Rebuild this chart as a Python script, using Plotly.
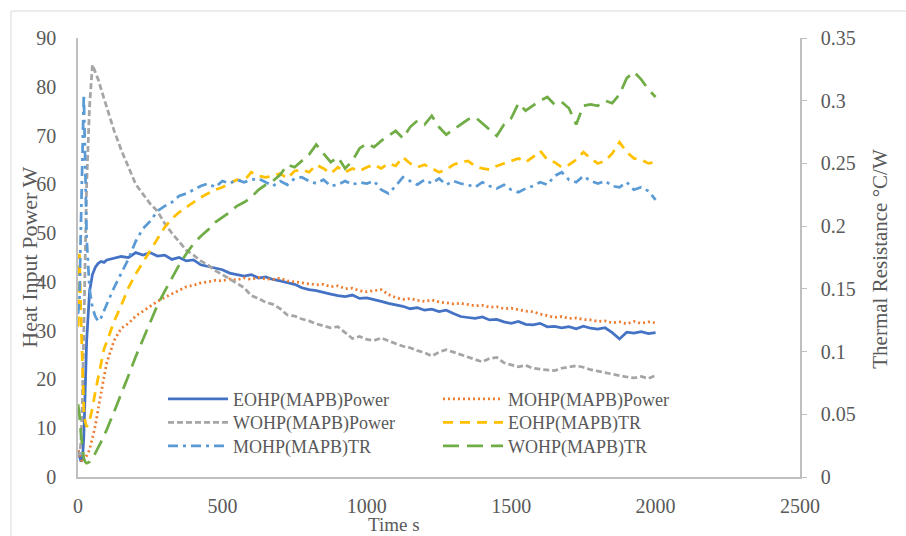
import plotly.graph_objects as go

time_s = [0, 5, 10, 15, 20, 25, 30, 40, 50, 60, 70, 80, 90, 100,
          125, 150, 175, 200, 225, 250, 275, 300, 325, 350, 375, 400, 425, 450, 475, 500,
          525, 550, 575, 600, 625, 650, 675, 700, 725, 750, 775, 800, 825, 850, 875, 900,
          925, 950, 975, 1000, 1025, 1050, 1075, 1100, 1125, 1150, 1175, 1200, 1225, 1250,
          1275, 1300, 1325, 1350, 1375, 1400, 1425, 1450, 1475, 1500, 1525, 1550, 1575, 1600,
          1625, 1650, 1675, 1700, 1725, 1750, 1775, 1800, 1825, 1850, 1875, 1900, 1925, 1950,
          1975, 2000]

eohp_power = [5.5, 4.5, 3.2, 3.5, 8, 18, 28, 38, 41.5, 43, 43.8, 44.2, 44, 44.5,
              44.8, 45.2, 45, 46, 45.5, 46, 45.3, 45.5, 44.6, 45, 44.3, 44.5, 43.5, 43.2, 42.8, 42.5,
              41.8, 41.5, 41.2, 41.5, 40.8, 41, 40.5, 40.2, 39.8, 39.5, 38.8, 38.4, 38.2, 37.8, 37.5, 37.2,
              37, 37.3, 36.6, 36.7, 36.4, 36, 35.6, 35.3, 35, 34.5, 34.7, 34.2, 34.4, 33.9,
              34.2, 33.5, 32.9, 32.7, 32.5, 32.8, 32.2, 32.3, 31.8, 31.5, 31.9, 31.3, 31.2, 31.5,
              30.8, 30.9, 30.6, 30.8, 30.4, 30.9, 30.5, 30.3, 30.6, 29.6, 28.3, 29.7, 29.5, 29.8,
              29.4, 29.6]

mohp_power = [5.5, 4.5, 3.5, 3, 3.2, 3.8, 4.5, 5.6, 8, 10.5, 14, 17.5, 20.5, 23.5,
              28, 30.5, 31.5, 33, 34, 35, 36, 36.8, 37.5, 38.3, 39, 39.3, 39.8, 40, 40.3, 40.2,
              40.6, 40.4, 40.8, 40.5, 40.9, 40.6, 40.5, 40.8, 40.2, 40, 39.8, 39.6, 39.4, 39.5, 39, 39.2,
              38.6, 38.7, 38.2, 38, 38.2, 38.4, 37.4, 36.8, 36.4, 36.6, 36.2, 36, 36.3, 35.9,
              35.7, 35.5, 35.6, 35.3, 35.1, 35.2, 34.8, 34.9, 34.5, 34.6, 34.3, 34, 33.9, 33.4,
              33.1, 32.7, 32.9, 32.5, 32.6, 32.3, 32.2, 31.9, 32, 31.6, 31.8, 31.4, 31.9, 31.5,
              31.8, 31.6]

wohp_power = [5, 4.5, 7, 15, 30, 45, 60, 76, 84.5, 83, 81.5, 79.5, 77.5, 76,
              71, 67, 63.5, 60, 58, 56, 54.5, 52, 50, 48.3, 46.5, 45.5, 44.3, 43.5, 42.3, 41.5,
              40.6, 39.8, 38.8, 37.2, 36.6, 35.8, 35.4, 34.5, 33.2, 33, 32.4, 32, 31.4, 31, 30.6, 30.8,
              29.6, 28.4, 28.8, 28.2, 28, 28.5, 27.9, 27.3, 26.8, 26.5, 25.9, 25.5, 24.8, 25.6,
              26.1, 25.6, 25.1, 24.5, 24, 23.6, 24.3, 24.5, 23.4, 23, 22.6, 22.9, 22.3, 22.1,
              22, 21.8, 22.3, 22.5, 22.8, 22.5, 22, 21.7, 21.4, 21, 20.7, 20.5, 20.3, 20.6,
              20.2, 20.8]

eohp_tr = [0.12, 0.178, 0.13, 0.085, 0.055, 0.044, 0.04, 0.045, 0.055, 0.068, 0.08, 0.092, 0.102, 0.108,
           0.124, 0.137, 0.151, 0.162, 0.171, 0.18, 0.19, 0.199, 0.206, 0.211, 0.215, 0.219, 0.223, 0.226, 0.229, 0.231,
           0.234, 0.237, 0.236, 0.243, 0.240, 0.239, 0.240, 0.242, 0.238, 0.244, 0.245, 0.243, 0.249, 0.246, 0.242, 0.247,
           0.243, 0.246, 0.244, 0.247, 0.249, 0.246, 0.250, 0.248, 0.255, 0.250, 0.247, 0.249, 0.246, 0.243,
           0.245, 0.249, 0.251, 0.252, 0.248, 0.246, 0.245, 0.248, 0.250, 0.252, 0.254, 0.251, 0.255, 0.260,
           0.253, 0.251, 0.247, 0.249, 0.253, 0.259, 0.254, 0.250, 0.252, 0.258, 0.267, 0.259, 0.254, 0.253,
           0.250, 0.251]

mohp_tr = [0.13, 0.14, 0.2, 0.27, 0.305, 0.25, 0.19, 0.15, 0.135, 0.128, 0.124, 0.127, 0.133, 0.138,
           0.151, 0.163, 0.174, 0.188, 0.198, 0.204, 0.212, 0.216, 0.219, 0.224, 0.226, 0.229, 0.232, 0.234, 0.231, 0.236,
           0.234, 0.237, 0.235, 0.237, 0.238, 0.235, 0.232, 0.236, 0.233, 0.238, 0.239, 0.236, 0.234, 0.237, 0.232, 0.233,
           0.236, 0.233, 0.235, 0.234, 0.236, 0.229, 0.226, 0.232, 0.239, 0.236, 0.233, 0.237, 0.234, 0.238,
           0.233, 0.236, 0.234, 0.233, 0.231, 0.235, 0.232, 0.230, 0.233, 0.229, 0.227, 0.230, 0.232, 0.235,
           0.233, 0.240, 0.243, 0.237, 0.235, 0.240, 0.236, 0.234, 0.236, 0.232, 0.231, 0.235, 0.229, 0.231,
           0.228, 0.221]

wohp_tr = [0.058, 0.05, 0.035, 0.022, 0.015, 0.012, 0.011, 0.012, 0.015, 0.019, 0.023, 0.028, 0.033, 0.038,
           0.052, 0.066, 0.081, 0.096, 0.11, 0.124, 0.137, 0.148, 0.159, 0.169, 0.178, 0.186, 0.192, 0.197, 0.203, 0.207,
           0.211, 0.216, 0.219, 0.223, 0.229, 0.233, 0.236, 0.241, 0.249, 0.247, 0.252, 0.257, 0.265, 0.258, 0.251, 0.255,
           0.246, 0.252, 0.262, 0.266, 0.263, 0.268, 0.272, 0.276, 0.270, 0.279, 0.284, 0.281, 0.288, 0.279,
           0.273, 0.277, 0.281, 0.285, 0.287, 0.282, 0.277, 0.272, 0.281, 0.286, 0.298, 0.292, 0.296, 0.300,
           0.303, 0.297, 0.299, 0.294, 0.281, 0.296, 0.297, 0.296, 0.300, 0.298, 0.305, 0.318, 0.323, 0.317,
           0.309, 0.303]

x_ticks = [0, 500, 1000, 1500, 2000, 2500]
y_ticks = [0, 10, 20, 30, 40, 50, 60, 70, 80, 90]
y2_ticks = [0, 0.05, 0.1, 0.15, 0.2, 0.25, 0.3, 0.35]
y2_labels = ["0", "0.05", "0.1", "0.15", "0.2", "0.25", "0.3", "0.35"]

# name, values, colour, dash, axis, legend row
series = [
    ("EOHP(MAPB)Power", eohp_power, "#4472C4", "solid", "y", "legend"),
    ("MOHP(MAPB)Power", mohp_power, "#ED7D31", "2px,3px", "y", "legend"),
    ("WOHP(MAPB)Power", wohp_power, "#A5A5A5", "6px,3px", "y", "legend2"),
    ("EOHP(MAPB)TR", eohp_tr, "#FFC000", "10px,7px", "y2", "legend2"),
    ("MOHP(MAPB)TR", mohp_tr, "#5B9BD5", "10px,5px,3px,5px", "y2", "legend3"),
    ("WOHP(MAPB)TR", wohp_tr, "#70AD47", "16px,8px", "y2", "legend3"),
]

W, H = 906, 536
L, R, T, B = 78, 106, 38, 58.5
PW, PH = W - L - R, H - T - B

def px(x):
    return (x - L) / PW

def py(y):
    return (H - B - y) / PH

FONT = "Liberation Serif"
GREY = "#595959"

fig = go.Figure()
for name, vals, col, dash, ax, leg in series:
    fig.add_trace(go.Scatter(x=time_s, y=vals, name=name, yaxis=ax, mode="lines", legend=leg,
                             line=dict(color=col, width=2.75, dash=dash)))

def legend_row(center_y):
    return dict(orientation="h", x=px(163), y=py(center_y - 19), xanchor="left", yanchor="top",
                bgcolor="rgba(0,0,0,0)", font=dict(size=18, family=FONT, color=GREY),
                entrywidth=200, entrywidthmode="pixels", itemwidth=60, traceorder="normal")

fig.update_layout(
    width=W, height=H,
    margin=dict(l=L, r=R, t=T, b=B),
    paper_bgcolor="white", plot_bgcolor="white",
    font=dict(family=FONT, color=GREY, size=20),
    xaxis=dict(range=[0, 2500], tickvals=x_ticks, showgrid=False, zeroline=False,
               showline=True, linecolor="#BFBFBF", linewidth=1.5, ticks="",
               ticklabelstandoff=10, tickfont=dict(size=20, family=FONT, color=GREY)),
    yaxis=dict(range=[0, 90], tickvals=y_ticks, showgrid=False, zeroline=False,
               showline=True, linecolor="#BFBFBF", linewidth=1.5, ticks="",
               ticklabelstandoff=16, tickfont=dict(size=20, family=FONT, color=GREY)),
    yaxis2=dict(range=[0, 0.35], tickvals=y2_ticks, ticktext=y2_labels, overlaying="y", side="right",
                showgrid=False, zeroline=False, showline=True, linecolor="#BFBFBF", linewidth=1.5,
                ticks="outside", ticklen=5, tickcolor="#BFBFBF",
                ticklabelstandoff=10, tickfont=dict(size=20, family=FONT, color=GREY)),
    legend=legend_row(400),
    legend2=legend_row(423.5),
    legend3=legend_row(447),
    showlegend=True,
)

fig.add_shape(type="rect", xref="paper", yref="paper",
              x0=px(11), y0=py(H + 5), x1=px(W + 5), y1=py(11),
              line=dict(color="#D9D9D9", width=1), fillcolor="rgba(0,0,0,0)", layer="below")

fig.add_annotation(text="Heat Input Power W", xref="paper", yref="paper", x=px(30), y=py(258),
                   showarrow=False, textangle=-90, font=dict(size=22, family=FONT, color=GREY),
                   xanchor="center", yanchor="middle")
fig.add_annotation(text="Thermal Resistance °C/W", xref="paper", yref="paper", x=px(880), y=py(259),
                   showarrow=False, textangle=-90, font=dict(size=21, family=FONT, color=GREY),
                   xanchor="center", yanchor="middle")
fig.add_annotation(text="Time s", xref="paper", yref="paper", x=px(394), y=py(525),
                   showarrow=False, font=dict(size=19, family=FONT, color=GREY),
                   xanchor="center", yanchor="middle")

fig.write_html("out.html")
